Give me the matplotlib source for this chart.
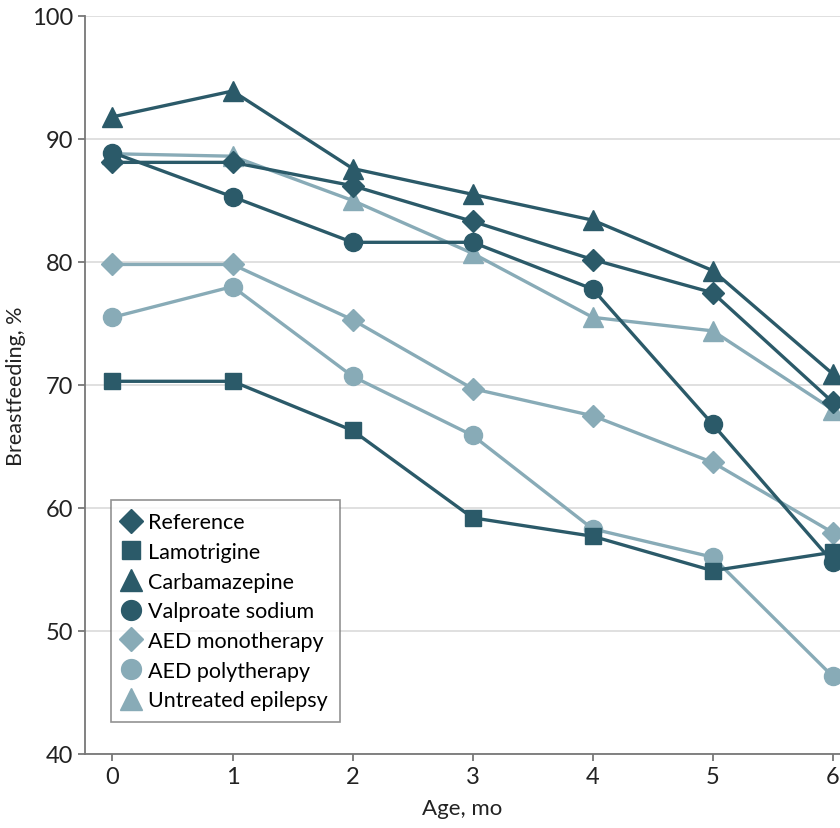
import matplotlib.pyplot as plt

months = [0, 1, 2, 3, 4, 5, 6]

reference = [88.1, 88.1, 86.2, 83.3, 80.2, 77.5, 68.6]
lamotrigine = [70.3, 70.3, 66.3, 59.2, 57.7, 54.9, 56.4]
carbamazepine = [91.8, 93.9, 87.6, 85.5, 83.4, 79.3, 70.9]
valproate = [88.9, 85.3, 81.6, 81.6, 77.8, 66.8, 55.6]
aed_mono = [79.8, 79.8, 75.3, 69.7, 67.5, 63.7, 58.0]
aed_poly = [75.5, 78.0, 70.7, 65.9, 58.3, 56.0, 46.3]
untreated = [88.8, 88.6, 85.0, 80.7, 75.5, 74.4, 68.0]

dark = "#2b5a69"
light = "#88abb7"

plt.rcParams['font.family'] = ['Lato', 'DejaVu Sans']

fig = plt.figure(figsize=(8.4, 8.29), dpi=100)
ax = fig.add_axes([0.101, 0.0893, 0.899, 0.8902])

series = [
    ("Reference", reference, dark, "D", 11),
    ("Lamotrigine", lamotrigine, dark, "s", 12),
    ("Carbamazepine", carbamazepine, dark, "^", 14),
    ("Valproate sodium", valproate, dark, "o", 13),
    ("AED monotherapy", aed_mono, light, "D", 11),
    ("AED polytherapy", aed_poly, light, "o", 13),
    ("Untreated epilepsy", untreated, light, "^", 14),
]

handles = []
for name, vals, col, mk, ms in series:
    z = 3 if col == light else 4
    h, = ax.plot(months, vals, color=col, marker=mk, markersize=ms, lw=2.4,
                 label=name, zorder=z, clip_on=False)
    handles.append(h)

ax.set_xlim(-0.23, 6.06)
ax.set_ylim(40, 100)
ax.set_xticks(months)
ax.set_yticks(range(40, 101, 10))
ax.grid(axis='y', color='#dddddd', lw=1.3)
ax.set_axisbelow(True)
for s in ['top', 'right']:
    ax.spines[s].set_visible(False)
for s in ['left', 'bottom']:
    ax.spines[s].set_color('#777777')
    ax.spines[s].set_linewidth(1.3)
ax.tick_params(colors='#777777', labelcolor='#222222', labelsize=17, length=5, width=1.3)
ax.set_xlabel("Age, mo", fontsize=16, color='#222222', labelpad=8)
ax.set_ylabel("Breastfeeding, %", fontsize=15.5, color='#222222', labelpad=4)

leg = ax.legend(handles=handles, loc='lower left', bbox_to_anchor=(0.034, 0.043),
                fontsize=15.5, frameon=True, fancybox=False, handlelength=0.8,
                handletextpad=0.4, labelspacing=0.45, borderpad=0.55,
                borderaxespad=0, markerscale=1.1)
for lh in leg.legend_handles:
    lh.set_linestyle('')
leg.get_frame().set_edgecolor('#777777')
leg.get_frame().set_linewidth(1.2)

fig.savefig("out.png", dpi=100)
